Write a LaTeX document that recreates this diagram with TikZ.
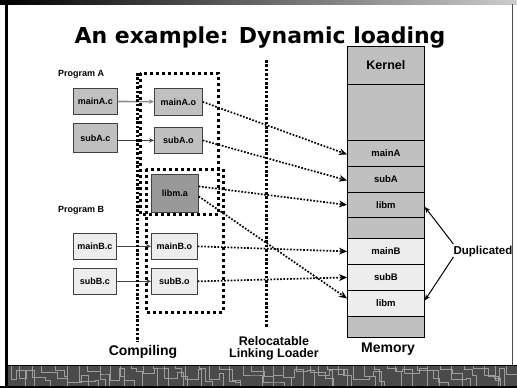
\documentclass[tikz,border=0pt]{standalone}
\usepackage{fontspec}
\setmainfont{Liberation Sans}
\newfontfamily\titlefont{DejaVu Sans}
\usetikzlibrary{arrows.meta}
\definecolor{cellgrey}{HTML}{C0C0C0}
\definecolor{cellpale}{HTML}{EDEDED}
\definecolor{libgrey}{HTML}{999999}
\definecolor{bandgrey}{HTML}{4A4A4A}
\definecolor{wiregrey}{HTML}{9C9C9C}
\newcommand{\fs}[1]{\fontsize{#1}{#1}\selectfont\bfseries}
\tikzset{
  filebox/.style={draw=black!75, line width=0.7pt, inner sep=0pt, anchor=north west, font=\fs{9}},
  memcell/.style={draw=black, line width=0.8pt, inner sep=0pt, anchor=north west,
                  minimum width=77pt, font=\fs{9.5}},
  compiles/.style={line width=0.8pt, -{Stealth[length=5pt,width=4.5pt]}},
  loads/.style={line width=1.7pt, dash pattern=on 1.7pt off 1.6pt,
                -{Stealth[length=8pt,width=7pt,line width=0pt]}},
  groupbox/.style={line width=3pt, dash pattern=on 3pt off 3pt},
  stageline/.style={line width=3pt, dash pattern=on 2.6pt off 1.8pt},
  caption/.style={font=\fs{14}, inner sep=0pt},
  pointer/.style={line width=1pt, -{Stealth[length=6pt,width=5pt]}},
}
\begin{document}
\begin{tikzpicture}[x=1pt,y=-1pt]
\useasboundingbox (0,0) rectangle (517,388);
\fill[white] (0,0) rectangle (517,388);

% frame: shaded top strip, side rules and circuit band at the foot
\shade[left color=black, right color=black!20] (0,0) rectangle (517,4);
\draw[black!70, line width=1pt] (512.5,4) -- (512.5,365);
\fill[bandgrey] (6,365) rectangle (517,386);
\begin{scope}
  \clip (6,366) rectangle (517,386);
  \pgfmathsetseed{4271}
  \foreach \i in {0,...,45} {
    \pgfmathsetmacro\xa{8+\i*11+random(0,5)}
    \pgfmathsetmacro\ya{368+random(0,14)}
    \pgfmathsetmacro\xb{\xa+random(4,16)}
    \pgfmathsetmacro\yb{368+random(0,14)}
    \pgfmathsetmacro\xc{\xb+random(3,10)}
    \draw[wiregrey, line width=0.8pt]
      (\xa,365) -- (\xa,\ya) -- (\xb,\ya) -- (\xb,\yb) -- (\xc,\yb) -- (\xc,390);
  }
\end{scope}
\draw[black, line width=1pt] (6,365) -- (517,365);
\fill[black] (0,386) rectangle (517,388);
\fill[black] (4.5,4) rectangle (7.5,388);

% title
\node[font=\titlefont\bfseries\fontsize{22}{22}\selectfont, anchor=base, inner sep=0pt]
  (title) at (260,43) {An example: Dynamic loading};

% program labels
\node[font=\fs{9}, anchor=base west, inner sep=0pt] (progA) at (58,76) {Program A};
\node[font=\fs{9}, anchor=base west, inner sep=0pt] (progB) at (58,212) {Program B};

% source files
\node[filebox, fill=cellgrey, minimum width=44pt, minimum height=26pt] (mainAc) at (73,88) {mainA.c};
\node[filebox, fill=cellgrey, minimum width=44pt, minimum height=29pt] (subAc) at (73,123) {subA.c};
\node[filebox, fill=cellpale, minimum width=43pt, minimum height=26pt] (mainBc) at (73,233) {mainB.c};
\node[filebox, fill=cellpale, minimum width=43pt, minimum height=26pt] (subBc) at (73,268) {subB.c};

% object files and the library
\node[filebox, fill=cellgrey, minimum width=48pt, minimum height=27pt] (mainAo) at (154,88) {mainA.o};
\node[filebox, fill=cellgrey, minimum width=48pt, minimum height=26pt] (subAo) at (154,127) {subA.o};
\node[filebox, fill=libgrey, minimum width=47pt, minimum height=38pt] (libma) at (151,174) {libm.a};
\node[filebox, fill=cellpale, minimum width=46pt, minimum height=26pt] (mainBo) at (151,233) {mainB.o};
\node[filebox, fill=cellpale, minimum width=46pt, minimum height=26pt] (subBo) at (151,268) {subB.o};

% compiler steps
\draw[compiles, draw=black!45, line width=1.6pt] (mainAc) -- (mainAo);
\draw[compiles, draw=black!75] (subAc.east |- subAo) -- (subAo);
\draw[compiles, draw=black!75] (mainBc) -- (mainBo);
\draw[compiles, draw=black!75] (subBc) -- (subBo);

% stage separators and the two link groups
\draw[stageline] (137,73) -- (137,342);
\draw[stageline] (266,60) -- (266,328);
\draw[groupbox] (140,73) rectangle (218.5,214);
\draw[groupbox] (146,169) rectangle (223,312);

% memory map
\node[memcell, fill=cellgrey, minimum height=38pt, font=\fs{12.5}] (kernel) at (347,46) {Kernel};
\node[memcell, fill=cellgrey, minimum height=56pt] (freeA) at (347,84) {};
\node[memcell, fill=cellgrey, minimum height=26pt] (memA) at (347,140) {mainA};
\node[memcell, fill=cellgrey, minimum height=26pt] (memsubA) at (347,166) {subA};
\node[memcell, fill=cellgrey, minimum height=25pt] (memlibA) at (347,192) {libm};
\node[memcell, fill=cellgrey, minimum height=21pt] (freeB) at (347,217) {};
\node[memcell, fill=cellpale, minimum height=26pt] (memB) at (347,238) {mainB};
\node[memcell, fill=cellpale, minimum height=26pt] (memsubB) at (347,264) {subB};
\node[memcell, fill=cellpale, minimum height=26pt] (memlibB) at (347,290) {libm};
\node[memcell, fill=cellgrey, minimum height=21pt] (freeC) at (347,316) {};

% loading into memory
\draw[loads] (mainAo.east) -- ([yshift=-1pt]memA.west);
\draw[loads] (subAo.east) -- ([yshift=-1pt]memsubA.west);
\draw[loads] ([yshift=7pt]libma.east) -- (memlibA.west);
\draw[loads] ([yshift=-3pt]libma.east) -- ([yshift=5pt]memlibB.west);
\draw[loads] (mainBo.east) -- (memB.west);
\draw[loads] (subBo.east) -- (memsubB.west);

% duplicated library copies
\node[font=\fs{11.5}, inner sep=0pt] (dup) at (483,252) {Duplicated};
\draw[pointer] ([yshift=8pt]dup.west) -- ([yshift=-2pt]memlibA.east);
\draw[pointer] ([yshift=-5pt]dup.west) -- ([yshift=3pt]memlibB.east);

% stage captions
\node[caption] (compcap) at (143,352) {Compiling};
\node[caption, font=\fs{12.5}, align=center] (loadcap) at (274,348)
  {Relocatable\\[-0.5pt]Linking Loader};
\node[caption] (memcap) at (388,349) {Memory};
\end{tikzpicture}
\end{document}
